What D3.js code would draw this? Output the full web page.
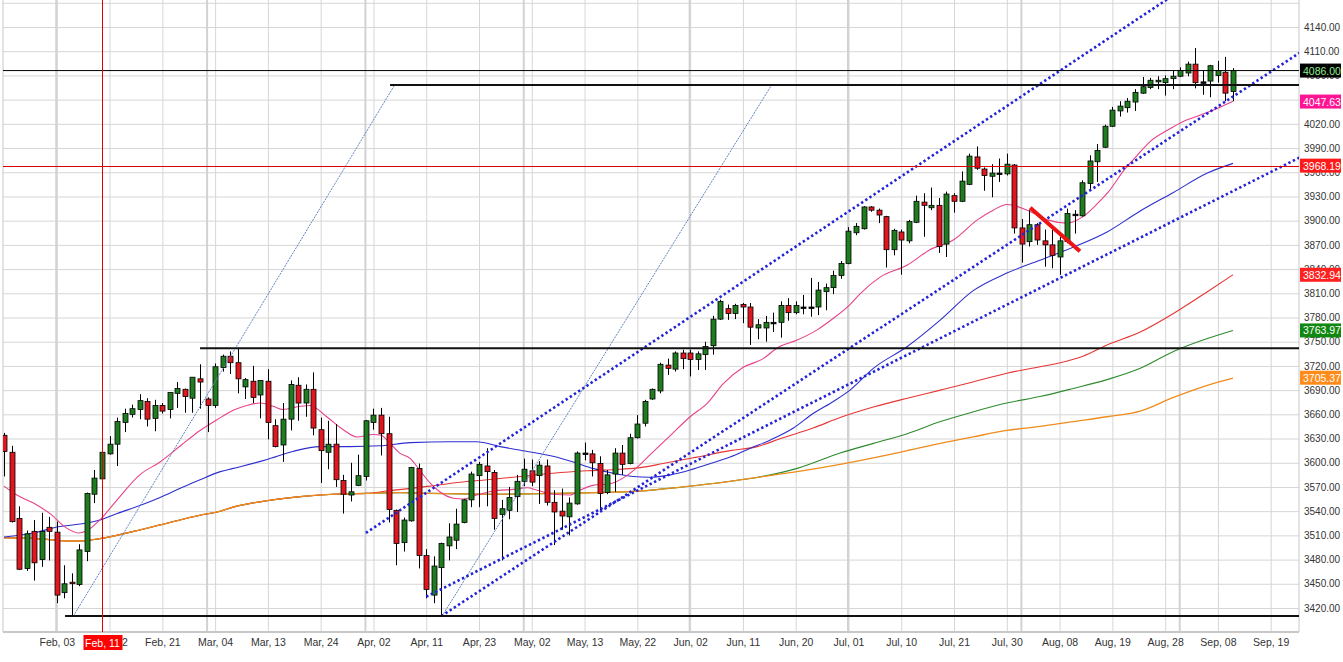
<!DOCTYPE html>
<html>
<head>
<meta charset="utf-8">
<title>candles</title>
<script src="https://d3js.org/d3.v7.min.js"></script>
<style>
    body { margin: 0; padding: 0; background: #fff; }
    text { font-family: "Liberation Sans", Arial, sans-serif; }
</style>
</head>
<body>
<svg id="chart" width="1343" height="662"></svg>
<script>
// ---- candles (bar index 0..163) ----
const opens = [3634,3613,3531,3469,3515,3480,3520,3514,3439,3452,
    3449,3490,3561,3580,3611,3623,3650,3660,3666,3676,
    3655,3671,3666,3686,3691,3680,3704,3679,3671,3718,
    3732,3724,3694,3701,3684,3701,3646,3622,3654,3696,
    3674,3691,3641,3613,3623,3578,3560,3572,3583,3650,
    3659,3636,3541,3501,3528,3593,3485,3436,3470,3497,
    3504,3526,3554,3584,3596,3588,3536,3541,3558,3577,
    3590,3584,3596,3551,3540,3533,3549,3612,3611,3599,
    3563,3586,3612,3599,3631,3649,3679,3689,3721,3716,
    3736,3736,3728,3734,3745,3778,3791,3785,3796,3793,
    3767,3767,3774,3774,3795,3786,3793,3793,3793,3812,
    3817,3832,3847,3885,3890,3917,3913,3905,3864,3886,
    3875,3898,3923,3916,3919,3871,3931,3924,3945,3979,
    3964,3955,3959,3958,3969,3891,3874,3895,3875,3870,
    3855,3874,3908,3906,3946,3973,3991,4017,4036,4040,
    4047,4058,4065,4072,4071,4076,4079,4083,4094,4072,
    4073,4080,4084,4060];
const highs = [3637,3621,3546,3516,3529,3538,3533,3527,3473,3463,
    3499,3563,3591,3615,3633,3656,3667,3672,3685,3680,
    3678,3674,3687,3700,3692,3706,3722,3681,3723,3734,
    3738,3742,3705,3720,3702,3716,3654,3674,3702,3706,
    3697,3712,3656,3652,3648,3585,3600,3610,3653,3667,
    3668,3657,3542,3532,3595,3599,3493,3484,3501,3525,
    3543,3555,3589,3601,3618,3591,3554,3570,3585,3605,
    3604,3602,3604,3566,3568,3557,3614,3625,3616,3608,
    3591,3618,3622,3636,3659,3678,3692,3724,3729,3738,
    3740,3740,3738,3750,3782,3802,3796,3797,3798,3798,
    3778,3782,3786,3800,3804,3800,3808,3829,3824,3822,
    3838,3850,3892,3897,3918,3918,3915,3906,3890,3889,
    3901,3931,3934,3941,3928,3936,3934,3961,3983,3992,
    3966,3970,3977,3983,3970,3902,3913,3897,3889,3889,
    3880,3915,3913,3950,3981,3995,4019,4041,4048,4052,
    4063,4078,4077,4079,4080,4086,4090,4097,4114,4086,
    4093,4098,4103,4089];
const lows = [3583,3526,3467,3466,3454,3471,3479,3426,3432,3411,
    3447,3478,3550,3578,3610,3596,3638,3656,3654,3645,
    3639,3661,3655,3668,3662,3662,3667,3638,3668,3713,
    3710,3686,3679,3674,3655,3629,3619,3601,3640,3652,
    3657,3634,3575,3592,3570,3537,3552,3571,3578,3641,
    3609,3526,3473,3490,3527,3469,3432,3426,3410,3479,
    3493,3525,3545,3545,3546,3517,3479,3530,3539,3571,
    3571,3549,3547,3498,3517,3510,3548,3603,3583,3541,
    3561,3564,3585,3598,3630,3645,3678,3686,3709,3713,
    3716,3707,3715,3715,3734,3777,3777,3778,3773,3746,
    3753,3750,3762,3755,3776,3784,3784,3781,3783,3789,
    3809,3828,3846,3882,3889,3911,3897,3842,3857,3833,
    3872,3897,3880,3913,3860,3855,3910,3923,3944,3963,
    3937,3929,3948,3956,3884,3848,3868,3870,3843,3841,
    3833,3872,3884,3905,3939,3948,3990,4016,4029,4034,
    4036,4057,4063,4063,4055,4063,4078,4079,4064,4056,
    4053,4071,4048,4048];
const closes = [3614,3527,3468,3512,3476,3515,3515,3436,3450,3451,
    3492,3562,3581,3613,3623,3651,3661,3667,3677,3654,
    3671,3664,3687,3692,3682,3706,3700,3671,3719,3732,
    3724,3704,3703,3681,3702,3650,3620,3654,3697,3674,
    3691,3643,3615,3623,3579,3561,3564,3584,3652,3659,
    3636,3542,3500,3529,3594,3485,3443,3472,3500,3508,
    3524,3554,3586,3598,3589,3531,3543,3557,3577,3592,
    3576,3597,3551,3539,3534,3550,3612,3612,3600,3562,
    3585,3612,3598,3631,3648,3676,3691,3722,3717,3736,
    3729,3728,3735,3744,3778,3800,3785,3795,3793,3768,
    3771,3774,3774,3795,3786,3795,3793,3793,3814,3817,
    3832,3847,3887,3893,3917,3913,3907,3864,3888,3876,
    3899,3924,3919,3919,3868,3933,3924,3949,3980,3965,
    3956,3959,3959,3970,3891,3871,3895,3876,3870,3857,
    3875,3909,3908,3947,3974,3987,4017,4037,4042,4048,
    4059,4066,4074,4074,4076,4079,4086,4094,4071,4072,
    4092,4086,4058,4086];

// ---- moving averages, [bar, value] ----
const maPink = [[0,3571],[1.7,3560],[3.9,3550],[6.1,3537],[8.3,3519],[9.9,3513],[11.2,3517],[12.7,3529],
    [15,3554],[18,3585],[20.7,3601],[23.4,3621],[26,3640],[28.2,3653],[30.4,3665],[32.2,3671],[34,3674],
    [35.7,3670],[37,3666],[39.3,3670],[40.6,3671],[42.8,3657],[45,3641],[46.8,3632],[49,3635],[50,3634],
    [51.2,3624],[52.5,3612],[53.9,3605],[55.2,3590],[56.5,3575],[57.8,3564],[59.6,3556],[60.9,3555],
    [62.7,3560],[64.9,3565],[67.5,3567],[69.4,3569],[70.7,3566],[72.8,3561],[75.1,3560],[76.4,3566],
    [78.1,3572],[80.4,3574],[82.6,3584],[84.4,3598],[85.7,3610],[88.4,3634],[91,3657],[93.3,3674],
    [95.4,3698],[98,3718],[100.7,3729],[102.5,3742],[105.2,3752],[107.9,3765],[110,3779],[112.2,3796],
    [113.6,3810],[116.2,3830],[119.8,3845],[122.8,3864],[125.9,3876],[129.1,3901],[131.2,3913],
    [133,3920],[135.7,3913],[138.4,3901],[141,3897],[143.1,3905],[145,3921],[146.5,3936],[148.5,3962],
    [150.3,3981],[152,3998],[154.3,4012],[156.4,4023],[158.7,4031],[160.9,4039],[163,4048]];
const maBlue = [[0,3508],[3.9,3513],[7.4,3521],[10.1,3524],[12.7,3529],[15,3537],[18,3547],[20.7,3557],
    [23.3,3568],[26,3579],[28.7,3589],[30.4,3593],[34.9,3604],[38.3,3614],[41.9,3620],[45.9,3620],
    [49.9,3621],[53.9,3625],[59.2,3626],[62.7,3626],[65.8,3620],[69.4,3614],[72.8,3608],[75.5,3601],
    [78.1,3593],[80.8,3587],[83.4,3583],[85.7,3582],[88.4,3585],[91,3591],[93.7,3599],[96.3,3607],
    [99,3618],[101.6,3628],[104.7,3643],[107.3,3661],[110,3676],[112.2,3690],[115.3,3717],[119.8,3744],
    [124.2,3777],[128.5,3813],[133,3835],[137.4,3851],[141.8,3867],[146.3,3886],[150.7,3912],
    [155.1,3935],[159.6,3959],[163,3971]];
const maRed = [[0,3507],[4.4,3506],[8.7,3503],[10,3503],[12.7,3506],[17.2,3515],[21.6,3525],[26,3535],
    [28.7,3540],[30.4,3545],[34.9,3553],[39.3,3558],[43.7,3561],[48.1,3562],[50.8,3565],[56.5,3571],
    [59.6,3575],[64.1,3579],[68.5,3583],[72.8,3587],[77.3,3590],[81.7,3592],[84.4,3594],[87.4,3599],
    [91.9,3607],[96.3,3615],[99.9,3620],[103,3630],[107.3,3643],[110.9,3656],[115.3,3669],[119.8,3680],
    [124.2,3690],[128.5,3700],[133,3711],[137.4,3719],[140.1,3724],[143.1,3732],[146.3,3746],
    [150.7,3762],[155.1,3785],[159.6,3812],[163,3833]];
const maGreen = [[0,3507],[4.4,3506],[8.7,3503],[10,3503],[12.7,3506],[17.2,3515],[21.6,3525],[26,3535],
    [28.7,3540],[30.4,3545],[34.9,3553],[39.3,3558],[43.7,3561],[48.1,3562],[52.5,3563],[56.5,3562],
    [64.1,3561],[72.8,3562],[84.4,3565],[90,3570],[96.3,3577],[100,3582],[105.2,3593],[110.9,3612],
    [115.3,3624],[119.8,3636],[124.2,3651],[128.5,3663],[133,3674],[137.4,3682],[141.8,3692],
    [146.3,3703],[150.7,3717],[155.1,3738],[159.6,3754],[163,3764]];
const maOrange = [[0,3507],[4.4,3506],[8.7,3503],[10,3503],[12.7,3506],[17.2,3515],[21.6,3525],[26,3535],
    [28.7,3540],[30.4,3545],[34.9,3553],[39.3,3558],[43.7,3561],[48.1,3562],[52.5,3563],[56.5,3562],
    [64.1,3561],[72.8,3562],[84.4,3565],[90,3570],[96.3,3577],[100,3582],[105.2,3589],[110.9,3598],
    [115.3,3606],[119.8,3615],[124.2,3624],[128.5,3632],[133,3640],[137.4,3645],[141.8,3651],
    [146.3,3657],[150.7,3664],[155.1,3681],[159.6,3696],[163,3705]];

// ---- drawn objects ----
const levelValues = [4068, 3742, 3410];
const levelStartBars = [51.2, 26, 8.1];
const lastPrice = 4086;
const crossBar = 13;
const crossValue = 3968.19;
const channelLines = [[[48, 3513], [160, 4210]], [[58, 3410], [172, 4109]], [[56, 3434], [172, 3979]]];
const fanLines = [[[9.2, 3410], [51.8, 4068]], [[58.1, 3410], [101.8, 4068]]];
const redSegment = [[136.1, 3916], [142.7, 3862]];

// ---- axes ----
const priceTicks = d3.range(3420, 4141, 30);
const dateBars = d3.range(7, 169, 7);
const dateLabels = ["Feb, 03","Feb, 12","Feb, 21","Mar, 04","Mar, 13","Mar, 24","Apr, 02","Apr, 11",
    "Apr, 23","May, 02","May, 13","May, 22","Jun, 02","Jun, 11","Jun, 20","Jul, 01","Jul, 10",
    "Jul, 21","Jul, 30","Aug, 08","Aug, 19","Aug, 28","Sep, 08","Sep, 19"];
const monthBars = [7, 27, 48, 69, 91, 112, 135, 156];
const crossLabel = "Feb, 11";
const tagValues = [4086.00, 4047.63, 3968.19, 3832.94, 3763.97, 3705.37];

const svg = d3.select("#chart");
const pLeft = 3, pRight = 1299, pTop = 0, pBottom = 632;

const x = d3.scaleLinear().domain([0, 163]).range([4, 1233]);
const y = d3.scaleLinear().domain([3420, 4140]).range([608, 27]);

svg.append("defs").append("clipPath").attr("id", "plotclip")
    .append("rect").attr("x", pLeft).attr("y", pTop).attr("width", pRight - pLeft).attr("height", pBottom - pTop);

// grid
const hGrid = svg.append("g").attr("transform", `translate(${pRight},0)`)
    .call(d3.axisRight(y).tickValues(d3.range(3420, 4171, 30)).tickSize(-(pRight - pLeft)).tickFormat(""));
hGrid.select(".domain").remove();
hGrid.selectAll("line").attr("stroke", "#d6d6d6");

const vGrid = svg.append("g").attr("transform", `translate(0,${pBottom})`)
    .call(d3.axisBottom(x).tickValues(dateBars).tickSize(-(pBottom - pTop)).tickFormat(""));
vGrid.select(".domain").remove();
vGrid.selectAll("line").attr("stroke", "#d6d6d6");

svg.append("g").selectAll("line").data(monthBars).join("line")
    .attr("x1", d => x(d) - 0.5).attr("x2", d => x(d) - 0.5)
    .attr("y1", pTop).attr("y2", pBottom)
    .attr("stroke", "#d2d2d2").attr("stroke-width", 2);

// frame
svg.append("line").attr("x1", pLeft).attr("x2", pLeft).attr("y1", pTop).attr("y2", pBottom)
    .attr("stroke", "#c8c8c8");
svg.append("line").attr("x1", pRight).attr("x2", pRight).attr("y1", pTop).attr("y2", pBottom)
    .attr("stroke", "#c8c8c8");
svg.append("line").attr("x1", pLeft).attr("x2", pRight).attr("y1", pBottom).attr("y2", pBottom)
    .attr("stroke", "#c8c8c8").attr("stroke-width", 2);

const plot = svg.append("g").attr("clip-path", "url(#plotclip)");

// moving averages
const maLine = d3.line().x(d => x(d[0])).y(d => y(d[1])).curve(d3.curveMonotoneX);
const maSeries = [
    {pts: maGreen, color: "#2e8b2e", w: 1.1},
    {pts: maRed, color: "#e83535", w: 1.1},
    {pts: maOrange, color: "#ee8c1c", w: 1.3},
    {pts: maBlue, color: "#2e2ed0", w: 1.1},
    {pts: maPink, color: "#e8418a", w: 1.1}
];
plot.selectAll("path.ma").data(maSeries).join("path")
    .attr("class", "ma")
    .attr("d", d => maLine(d.pts))
    .attr("fill", "none")
    .attr("stroke", d => d.color)
    .attr("stroke-width", d => d.w);

// candles
const bars = d3.range(opens.length);
const candle = plot.selectAll("g.candle").data(bars).join("g").attr("class", "candle");
candle.append("line")
    .attr("x1", i => Math.round(x(i)) + 0.5).attr("x2", i => Math.round(x(i)) + 0.5)
    .attr("y1", i => y(highs[i])).attr("y2", i => y(lows[i]))
    .attr("stroke", "#000").attr("stroke-width", 1);
candle.append("rect")
    .attr("x", i => Math.round(x(i)) - 2)
    .attr("width", 5)
    .attr("y", i => y(Math.max(opens[i], closes[i])))
    .attr("height", i => Math.max(1.5, Math.abs(y(opens[i]) - y(closes[i]))))
    .attr("fill", i => closes[i] > opens[i] ? "#1f7d1f" : (closes[i] < opens[i] ? "#e2161e" : "#000"))
    .attr("stroke", "#000").attr("stroke-width", 0.8);

// thin fan lines
plot.selectAll("line.fan").data(fanLines).join("line")
    .attr("class", "fan")
    .attr("x1", d => x(d[0][0])).attr("y1", d => y(d[0][1]))
    .attr("x2", d => x(d[1][0])).attr("y2", d => y(d[1][1]))
    .attr("stroke", "#5f86c0").attr("stroke-width", 1).attr("stroke-dasharray", "2,1");

// dotted channel lines
plot.selectAll("line.channel").data(channelLines).join("line")
    .attr("class", "channel")
    .attr("x1", d => x(d[0][0])).attr("y1", d => y(d[0][1]))
    .attr("x2", d => x(d[1][0])).attr("y2", d => y(d[1][1]))
    .attr("stroke", "#2323d8").attr("stroke-width", 2.6).attr("stroke-dasharray", "2.4,2.6");

// horizontal levels
plot.selectAll("line.level").data(levelValues).join("line")
    .attr("class", "level")
    .attr("x1", (d, i) => x(levelStartBars[i])).attr("x2", pRight)
    .attr("y1", d => y(d)).attr("y2", d => y(d))
    .attr("stroke", "#111").attr("stroke-width", 2);
plot.append("line")
    .attr("x1", pLeft).attr("x2", pRight).attr("y1", y(lastPrice)).attr("y2", y(lastPrice))
    .attr("stroke", "#000").attr("stroke-width", 1);

// red segment
plot.append("line")
    .attr("x1", x(redSegment[0][0])).attr("y1", y(redSegment[0][1]))
    .attr("x2", x(redSegment[1][0])).attr("y2", y(redSegment[1][1]))
    .attr("stroke", "#ee1414").attr("stroke-width", 4);

// crosshair
svg.append("line").attr("x1", pLeft).attr("x2", pRight)
    .attr("y1", Math.round(y(crossValue)) + 0.5).attr("y2", Math.round(y(crossValue)) + 0.5)
    .attr("stroke", "#dd0000").attr("stroke-width", 1);
svg.append("line")
    .attr("x1", Math.round(x(crossBar)) + 0.5).attr("x2", Math.round(x(crossBar)) + 0.5)
    .attr("y1", pTop).attr("y2", pBottom)
    .attr("stroke", "#dd0000").attr("stroke-width", 1);

// price axis labels
const yAxis = svg.append("g").attr("transform", `translate(${pRight},0)`)
    .call(d3.axisRight(y).tickValues(priceTicks).tickSize(0).tickPadding(5).tickFormat(d3.format(".2f")));
yAxis.select(".domain").remove();
yAxis.selectAll("text").attr("font-size", 10).attr("fill", "#333")
    .attr("font-family", "'Liberation Sans', Arial, sans-serif");

// date axis labels
const xAxis = svg.append("g").attr("transform", `translate(0,${pBottom})`)
    .call(d3.axisBottom(x).tickValues(dateBars).tickSize(0).tickPadding(7).tickFormat((d, i) => dateLabels[i]));
xAxis.select(".domain").remove();
xAxis.selectAll("text").attr("font-size", 10.5).attr("fill", "#333")
    .attr("font-family", "'Liberation Sans', Arial, sans-serif");

// crosshair date tag
const cx = Math.round(x(crossBar)) + 0.5;
svg.append("rect").attr("x", cx - 19).attr("y", pBottom + 3).attr("width", 39).attr("height", 15)
    .attr("fill", "#ff0000");
svg.append("text").attr("x", cx).attr("y", pBottom + 14.5).attr("text-anchor", "middle")
    .attr("font-size", 10.5).attr("fill", "#fff").text(crossLabel);

// value tags
const tagFill = ["#000000", "#ff1493", "#ff1a1a", "#ff2020", "#118811", "#ff8c1a"];
const tagText = ["#8fef8f", "#fff", "#fff", "#fff", "#fff", "#fff"];
const tags = svg.append("g").selectAll("g").data(tagValues).join("g")
    .attr("transform", d => `translate(${pRight + 1},${y(d)})`);
tags.append("rect").attr("x", 0).attr("y", -7).attr("width", 41).attr("height", 14)
    .attr("fill", (d, i) => tagFill[i]);
tags.append("text").attr("x", 3).attr("y", 4).attr("font-size", 10.5)
    .attr("fill", (d, i) => tagText[i]).text(d => d3.format(".2f")(d));
</script>
</body>
</html>
